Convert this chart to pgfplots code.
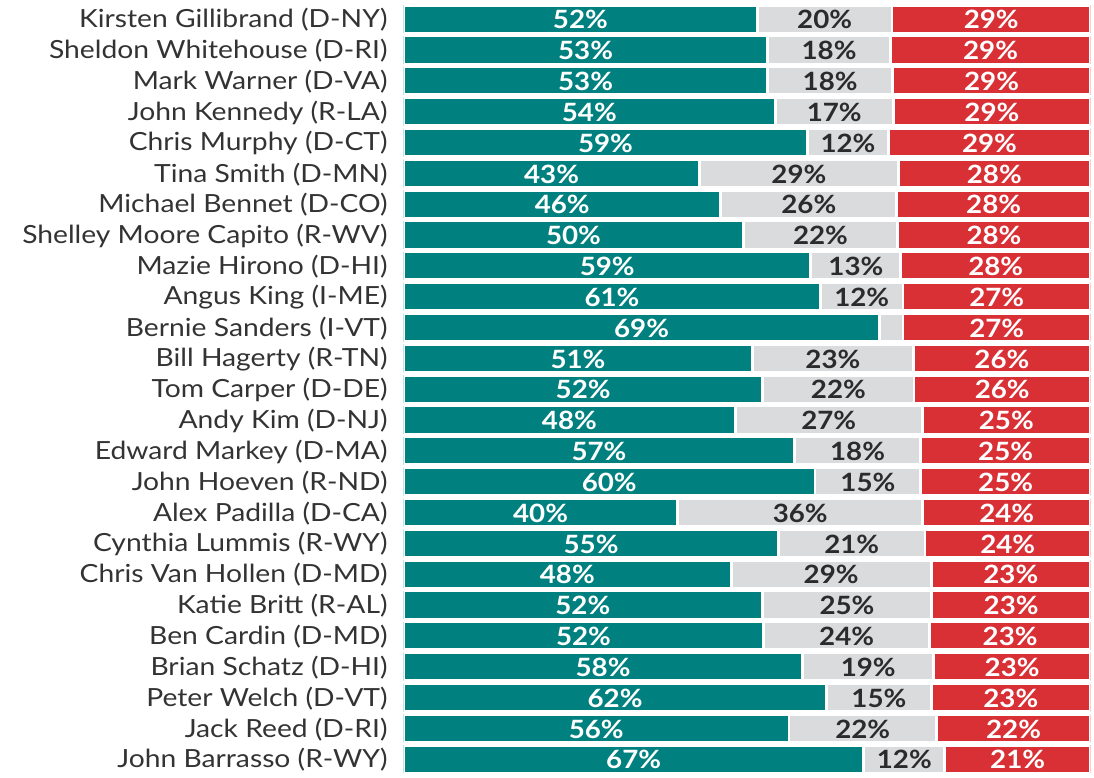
\documentclass[border=0pt]{standalone}
\usepackage{fontspec}
\setmainfont{Lato}
\newfontfamily\namefont{Lato}[FakeStretch=1.13]
\newfontfamily\pctfont{Lato}[FakeStretch=1.1]
\usepackage{pgfplots}
\usepackage{pgfplotstable}
\pgfplotsset{compat=1.18}
\definecolor{tealc}{HTML}{00817F}
\definecolor{greyc}{HTML}{D9DBDC}
\definecolor{redc}{HTML}{D93036}
\definecolor{txt}{HTML}{2B2B2B}
\definecolor{lbl}{HTML}{333333}

\pgfplotstableread[col sep=comma]{
i,name,t,g,r,tl,gl,rl
0,Kirsten Gillibrand (D-NY),51.5,19.6,28.9,52,20,29
1,Sheldon Whitehouse (D-RI),53.0,17.9,29.1,53,18,29
2,Mark Warner (D-VA),53.0,18.2,28.8,53,18,29
3,John Kennedy (R-LA),54.1,17.2,28.7,54,17,29
4,Chris Murphy (D-CT),58.8,11.8,29.4,59,12,29
5,Tina Smith (D-MN),43.1,28.9,28.0,43,29,28
6,Michael Bennet (D-CO),46.2,25.6,28.2,46,26,28
7,Shelley Moore Capito (R-WV),49.5,22.4,28.1,50,22,28
8,Mazie Hirono (D-HI),59.3,13.1,27.6,59,13,28
9,Angus King (I-ME),60.7,12.0,27.3,61,12,27
10,Bernie Sanders (I-VT),69.3,3.4,27.3,69,3,27
11,Bill Hagerty (R-TN),50.8,23.4,25.8,51,23,26
12,Tom Carper (D-DE),52.3,22.0,25.7,52,22,26
13,Andy Kim (D-NJ),48.3,27.2,24.5,48,27,25
14,Edward Markey (D-MA),56.9,18.4,24.7,57,18,25
15,John Hoeven (R-ND),59.9,15.4,24.7,60,15,25
16,Alex Padilla (D-CA),39.9,35.7,24.4,40,36,24
17,Cynthia Lummis (R-WY),54.6,21.3,24.1,55,21,24
18,Chris Van Hollen (D-MD),47.7,29.1,23.2,48,29,23
19,Katie Britt (R-AL),52.2,24.7,23.1,52,25,23
20,Ben Cardin (D-MD),52.4,24.2,23.4,52,24,23
21,Brian Schatz (D-HI),58.1,19.1,22.8,58,19,23
22,Peter Welch (D-VT),61.6,15.2,23.2,62,15,23
23,Jack Reed (D-RI),56.1,21.5,22.4,56,22,22
24,John Barrasso (R-WY),67.0,11.8,21.2,67,12,21
}\data

\pgfplotsset{
  base/.style={
    at={(0,0)}, anchor=south west, scale only axis,
    width=343.5pt, height=385.4pt,
    xmin=0, xmax=100, ymin=-0.5, ymax=24.5, y dir=reverse,
  },
}

\begin{document}
\begin{tikzpicture}
\path[use as bounding box] (-201.75pt,-1.25pt) rectangle (345.25pt,387.3pt);
\begin{axis}[base,
  xbar stacked, bar width=14pt,
  axis line style={draw=none},
  major tick length=0pt,
  xtick=\empty,
  ytick={0,...,24},
  yticklabels from table={\data}{name},
  yticklabel style={font=\namefont\fontsize{12.5}{14}\selectfont, text=lbl, inner sep=0pt, xshift=-7.75pt, yshift=-0.4pt},
]
\addplot[fill=tealc, draw=white, line width=1.4pt] table[x=t, y=i]{\data};
\addplot[fill=greyc, draw=white, line width=1.4pt] table[x=g, y=i]{\data};
\addplot[fill=redc, draw=white, line width=1.4pt] table[x=r, y=i]{\data};
\end{axis}
\begin{axis}[base, hide axis, clip=false,
  nodes near coords={\pgfplotspointmeta\%},
  point meta=explicit symbolic,
  every node near coord/.append style={anchor=center, font=\pctfont\fontsize{12.6}{14}\selectfont\bfseries, inner sep=0pt, yshift=-0.3pt},
]
\addplot[only marks, mark=none, every node near coord/.append style={text=white}]
  table[x expr=\thisrow{t}/2, y=i, meta=tl]{\data};
\addplot[only marks, mark=none, every node near coord/.append style={text=txt},
  skip coords between index={10}{11}]
  table[x expr=\thisrow{t}+\thisrow{g}/2, y=i, meta=gl]{\data};
\addplot[only marks, mark=none, every node near coord/.append style={text=white}]
  table[x expr=\thisrow{t}+\thisrow{g}+\thisrow{r}/2, y=i, meta=rl]{\data};
\end{axis}
\end{tikzpicture}
\end{document}
